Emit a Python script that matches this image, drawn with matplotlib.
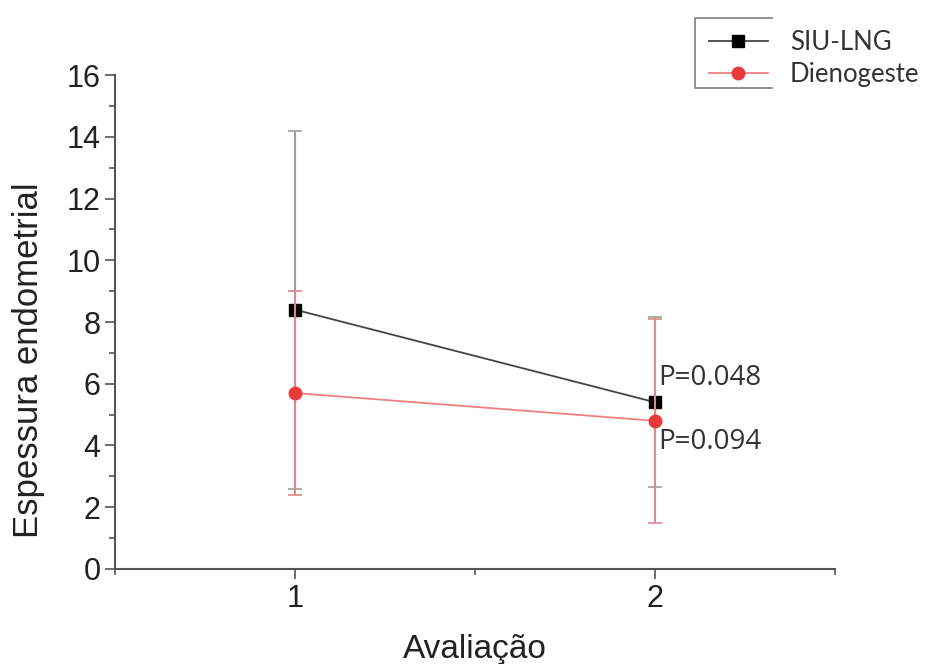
import matplotlib.pyplot as plt
from matplotlib.lines import Line2D
from matplotlib.ticker import MultipleLocator
import numpy as np

avaliacao = [1, 2]
siu_mean = [8.4, 5.4]
siu_sd = [5.8, 2.75]
dieno_mean = [5.7, 4.8]
dieno_sd = [3.3, 3.3]
p_labels = ['P=0.048', 'P=0.094']
p_y = [6.2, 4.1]


def main():
    plt.rcParams['font.family'] = ['Liberation Sans', 'DejaVu Sans']
    fig = plt.figure(figsize=(9.33, 6.64), dpi=100)
    ax = fig.add_axes([0.1233, 0.1431, 0.7717, 0.7439])

    ax.errorbar(avaliacao, siu_mean, yerr=siu_sd, color='#444444', ecolor='#a0a0a0',
                elinewidth=1.5, capsize=5, capthick=1.2, lw=1.3, marker='s', ms=8,
                mfc='black', mec='black', zorder=3)
    ax.errorbar(avaliacao, dieno_mean, yerr=dieno_sd, color='#f08080', ecolor='#d98a8a',
                elinewidth=1.5, capsize=5, capthick=1.2, lw=1.3, marker='o', ms=9,
                mfc='#e83a3a', mec='#e83a3a', zorder=4)

    for x, y, t in zip([2, 2], p_y, p_labels):
        ax.text(x + 0.01, y, t, fontsize=20, family=['Open Sans', 'DejaVu Sans'],
                color='#333333', va='center', ha='left')

    ax.set_xlim(0.5, 2.5)
    ax.set_ylim(0, 16)
    ax.xaxis.set_minor_locator(MultipleLocator(0.5))
    ax.yaxis.set_major_locator(MultipleLocator(2))
    ax.yaxis.set_minor_locator(MultipleLocator(1))
    ax.set_xticks([1, 2])
    ax.tick_params(which='major', length=7, width=1.2, labelsize=22, color='#555555',
                   labelcolor='#222222')
    ax.tick_params(which='minor', length=4, width=1.2, color='#555555')
    ax.spines['top'].set_visible(False)
    ax.spines['right'].set_visible(False)
    for s in ['left', 'bottom']:
        ax.spines[s].set_linewidth(1.5)
        ax.spines[s].set_color('#555555')

    ax.set_xlabel('Avaliação', fontsize=24, labelpad=15, color='#222222')
    ax.set_ylabel('Espessura endometrial', fontsize=25, color='#222222')
    ax.yaxis.set_label_coords(-0.097, 0.423)

    handles = [
        Line2D([], [], color='#444444', lw=1.3, marker='s', ms=8, mfc='black', mec='black'),
        Line2D([], [], color='#f08080', lw=1.3, marker='o', ms=9, mfc='#e83a3a', mec='#e83a3a'),
    ]
    leg = fig.legend(handles, ['SIU-LNG', 'Dienogeste'], loc='upper left',
                     bbox_to_anchor=(0.735, 0.99), frameon=False,
                     handlelength=2.3, handletextpad=0.85, labelspacing=0.3,
                     prop={'family': ['Lato', 'DejaVu Sans'], 'size': 18.5})
    for t in leg.get_texts():
        t.set_color('#333333')

    # bracket frame round the legend handles
    fx = [772 / 933, 695 / 933, 695 / 933, 772 / 933]
    fy = [1 - 18 / 664, 1 - 18 / 664, 1 - 88 / 664, 1 - 88 / 664]
    fig.add_artist(Line2D(fx, fy, color='#888888', lw=1.3))

    fig.savefig('out.png', dpi=100)


if __name__ == '__main__':
    main()
